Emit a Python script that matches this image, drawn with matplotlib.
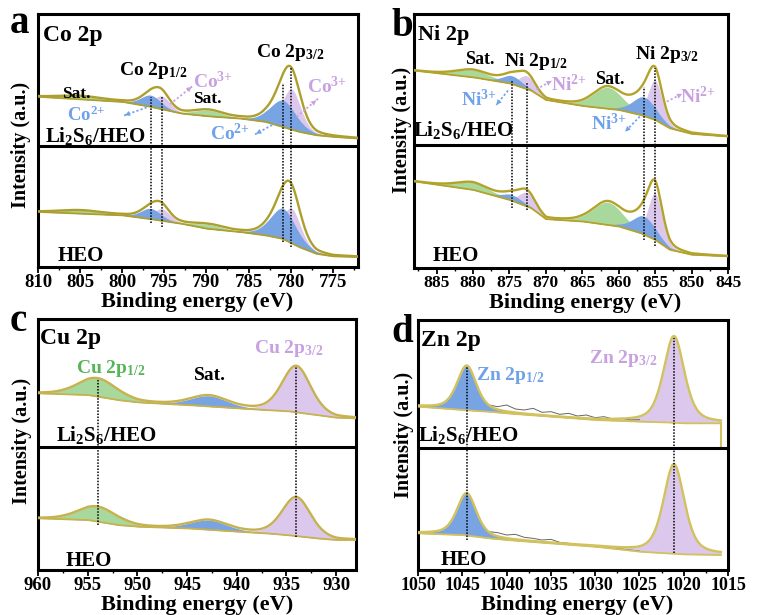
import numpy as np
import matplotlib
matplotlib.use("Agg")
import matplotlib.pyplot as plt
from matplotlib.ticker import MultipleLocator

plt.rcParams['font.family'] = ['Liberation Serif', 'DejaVu Serif']
plt.rcParams['font.weight'] = 'bold'
plt.rcParams['mathtext.fontset'] = 'custom'
plt.rcParams['mathtext.rm'] = 'Liberation Serif:bold'
plt.rcParams['mathtext.it'] = 'Liberation Serif:bold'
plt.rcParams['mathtext.bf'] = 'Liberation Serif:bold'

# ---------------- Co 2p ----------------
co_bg_ev = [810, 800, 797, 793, 790, 786, 783, 781, 779, 777, 775, 772]
co_bg_li2s6 = [5.10, 4.95, 4.82, 4.60, 4.52, 4.45, 4.35, 4.20, 4.05, 3.95, 3.90, 3.85]
co_bg_heo = [1.65, 1.55, 1.45, 1.30, 1.15, 1.05, 0.95, 0.85, 0.60, 0.40, 0.32, 0.30]
co_pk_center = [805.0, 796.6, 795.3, 789.8, 780.9, 779.9]
co_pk_fwhm = [6.0, 2.8, 2.3, 4.0, 3.6, 2.6]
co_pk_li2s6 = [0.10, 0.35, 0.40, 0.18, 0.80, 1.22]
co_pk_heo = [0.10, 0.32, 0.36, 0.13, 0.92, 1.05]
co_pk_kind = ['g', 'b', 'p', 'g', 'b', 'p']
co_guide_ev = [796.6, 795.3, 780.9, 779.9]
co_guide_top = [5.10, 5.12, 5.50, 5.95]
co_guide_bot = [1.32, 1.20, 0.75, 0.60]

# ---------------- Ni 2p ----------------
ni_bg_ev = [888, 880, 875, 872, 870, 865, 860, 857, 855, 853, 850, 845]
ni_bg_li2s6 = [5.93, 5.73, 5.55, 5.33, 5.05, 4.87, 4.75, 4.60, 4.45, 4.20, 4.03, 3.95]
ni_bg_heo = [2.60, 2.35, 2.05, 1.80, 1.47, 1.40, 1.25, 1.05, 0.85, 0.55, 0.40, 0.35]
ni_pk_center = [880.0, 874.6, 872.6, 861.5, 856.5, 855.0]
ni_pk_fwhm = [5.5, 3.2, 2.6, 4.8, 3.8, 2.3]
ni_pk_li2s6 = [0.22, 0.25, 0.40, 0.64, 0.57, 1.20]
ni_pk_heo = [0.22, 0.18, 0.42, 0.68, 0.55, 1.40]
ni_pk_kind = ['g', 'b', 'p', 'g', 'b', 'p']
ni_guide_ev = [874.6, 872.6, 856.5, 855.0]
ni_guide_top = [5.65, 5.60, 5.45, 6.00]
ni_guide_bot = [1.80, 1.75, 0.85, 0.65]

# ---------------- Cu 2p ----------------
cu_bg_ev = [960, 955, 952, 950, 945, 940, 937, 935, 932, 930, 928]
cu_bg_li2s6 = [5.30, 5.25, 5.10, 5.03, 4.95, 4.85, 4.80, 4.77, 4.65, 4.57, 4.55]
cu_bg_heo = [1.55, 1.50, 1.35, 1.30, 1.25, 1.15, 1.10, 1.05, 0.95, 0.90, 0.90]
cu_pk_center = [954.0, 942.8, 934.0]
cu_pk_fwhm = [4.6, 4.4, 3.4]
cu_pk_li2s6 = [0.55, 0.32, 1.39]
cu_pk_heo = [0.45, 0.29, 1.17]
cu_pk_kind = ['g', 'b', 'p']
cu_guide_ev = [954.0, 934.0]
cu_guide_top = [5.70, 6.10]
cu_guide_bot = [1.35, 1.00]

# ---------------- Zn 2p ----------------
zn_bg_ev = [1050, 1045, 1042, 1040, 1035, 1030, 1025, 1022, 1020, 1016]
zn_bg_li2s6 = [4.90, 4.80, 4.75, 4.70, 4.60, 4.50, 4.45, 4.43, 4.40, 4.40]
zn_bg_heo = [1.10, 1.05, 0.95, 0.90, 0.80, 0.70, 0.55, 0.50, 0.47, 0.45]
zn_pk_center = [1044.5, 1021.1]
zn_pk_fwhm = [2.6, 2.8]
zn_pk_li2s6 = [1.34, 2.60]
zn_pk_heo = [1.27, 2.69]
zn_pk_kind = ['b', 'p']
zn_guide_ev = [1044.5, 1021.1]
zn_guide_top = [6.10, 6.95]
zn_guide_bot = [0.90, 0.50]
# measured counts in the Zn 2p1/2 tail region
zn_raw_ev = [1042, 1041, 1040, 1039, 1038, 1037, 1036, 1035, 1034, 1033,
             1032, 1031, 1030, 1029, 1028, 1027, 1026, 1025]
zn_raw_li2s6 = [4.95, 4.90, 4.95, 4.83, 4.80, 4.85, 4.73, 4.75, 4.67, 4.70,
                4.62, 4.65, 4.57, 4.60, 4.53, 4.55, 4.50, 4.51]
zn_raw_heo = [1.15, 1.12, 1.05, 1.07, 0.98, 0.95, 0.90, 0.92, 0.83, 0.80,
              0.77, 0.75, 0.70, 0.70, 0.65, 0.63, 0.60, 0.57]

FILL = {'g': '#a8d89c', 'b': '#78a4e4', 'p': '#dcc8ec'}
TXT_BLUE = '#6fa2ea'
TXT_PURPLE = '#c8a2e0'
TXT_GREEN = '#58b458'

W, H = 761, 615
fig = plt.figure(figsize=(W / 100, H / 100), dpi=100)


def px_axes(left, top, right, bottom):
    return fig.add_axes([left / W, 1 - bottom / H, (right - left) / W, (bottom - top) / H])


def pseudo_voigt(x, c, a, w, eta):
    u = 4.0 * (x - c) ** 2 / w ** 2
    return a * (eta / (1 + u) + (1 - eta) * np.exp(-np.log(2) * u))


def draw_spectrum(ax, x, bg_ev, bg, centers, fwhm, amps, kinds, eta, env_color):
    base = np.interp(x, bg_ev[::-1], bg[::-1])
    total = base.copy()
    comps = []
    for c, w, a, k in zip(centers, fwhm, amps, kinds):
        comp = pseudo_voigt(x, c, a, w, eta)
        total = total + comp
        comps.append((k, comp))
    for order in ['g', 'p', 'b']:
        for k, comp in comps:
            if k == order:
                ax.fill_between(x, base, base + comp, color=FILL[k], lw=0, zorder=2)
    ax.plot(x, base, color=env_color, lw=1.3, zorder=4)
    ax.plot(x, total, color=env_color, lw=1.7, zorder=5)


def setup_axes(ax, xlim, ylim, divider, tick_fs):
    ax.set_xlim(*xlim)
    ax.set_ylim(*ylim)
    ax.axhline(divider, color='k', lw=2.2, zorder=6)
    ax.set_yticks([])
    ax.xaxis.set_major_locator(MultipleLocator(5))
    ax.xaxis.set_minor_locator(MultipleLocator(2.5))
    ax.tick_params(axis='x', which='major', direction='out', length=4, width=1.3,
                   labelsize=tick_fs, pad=1.0)
    ax.tick_params(axis='x', which='minor', direction='out', length=2.5, width=1.0)
    for lab in ax.get_xticklabels():
        lab.set_fontweight('bold')
    for s in ax.spines.values():
        s.set_linewidth(2.2)


def guides(ax, evs, tops, bots):
    for e, t, b in zip(evs, tops, bots):
        ax.plot([e, e], [b, t], color='k', ls=(0, (1, 1)), lw=1.1, zorder=7)


def dotted_arrow(ax, tail, head, color):
    ax.plot([tail[0], head[0]], [tail[1], head[1]], color=color, ls=(0, (1.2, 1.2)),
            lw=1.3, zorder=8)
    dx = head[0] - tail[0]
    dy = head[1] - tail[1]
    ax.annotate('', xy=head, xytext=(head[0] - 0.25 * dx, head[1] - 0.25 * dy),
                arrowprops=dict(arrowstyle='-|>', color=color, lw=0.1,
                                mutation_scale=9), zorder=8)


def txt(ax, x, y, s, fs, color='k', ha='center'):
    ax.text(x, y, s, fontsize=fs, color=color, ha=ha, va='center',
            fontweight='bold', zorder=9)


def fig_text(x, y, s, fs, rot=0, ha='center', va='center'):
    fig.text(x / W, 1 - y / H, s, fontsize=fs, rotation=rot, ha=ha, va=va,
             fontweight='bold')


# ---------------- panel a ----------------
ax = px_axes(38, 14, 358, 267)
x = np.linspace(810, 772, 900)
setup_axes(ax, (810, 772), (0, 7.58), 3.63, 13.5)
draw_spectrum(ax, x, co_bg_ev, co_bg_li2s6, co_pk_center, co_pk_fwhm, co_pk_li2s6,
              co_pk_kind, 0.3, '#ad9f2e')
draw_spectrum(ax, x, co_bg_ev, co_bg_heo, co_pk_center, co_pk_fwhm, co_pk_heo,
              co_pk_kind, 0.3, '#ad9f2e')
guides(ax, co_guide_ev, co_guide_top, co_guide_bot)
dotted_arrow(ax, (794.3, 4.88), (791.5, 5.45), TXT_PURPLE)
dotted_arrow(ax, (797.1, 4.78), (800.0, 4.52), TXT_BLUE)
dotted_arrow(ax, (779.3, 4.50), (776.7, 5.05), TXT_PURPLE)
dotted_arrow(ax, (781.3, 4.38), (784.4, 3.95), TXT_BLUE)
txt(ax, 809.4, 6.95, 'Co 2p', 17, ha='left')
txt(ax, 805.4, 5.17, 'Sat.', 12.5)
txt(ax, 796.3, 5.90, 'Co 2p$_{1/2}$', 14)
txt(ax, 789.2, 5.55, 'Co$^{3{+}}$', 14, TXT_PURPLE)
txt(ax, 789.9, 5.02, 'Sat.', 12.5)
txt(ax, 804.3, 4.55, 'Co$^{2{+}}$', 13.5, TXT_BLUE)
txt(ax, 803.2, 3.93, 'Li$_2$S$_6$/HEO', 15)
txt(ax, 780.1, 6.42, 'Co 2p$_{3/2}$', 14)
txt(ax, 775.7, 5.40, 'Co$^{3{+}}$', 14, TXT_PURPLE)
txt(ax, 787.2, 4.00, 'Co$^{2{+}}$', 14, TXT_BLUE)
txt(ax, 804.9, 0.32, 'HEO', 15)

# ---------------- panel b ----------------
ax = px_axes(414, 14, 728, 268)
x = np.linspace(888.1, 845, 900)
setup_axes(ax, (888.1, 845), (0, 7.63), 3.68, 12.5)
draw_spectrum(ax, x, ni_bg_ev, ni_bg_li2s6, ni_pk_center, ni_pk_fwhm, ni_pk_li2s6,
              ni_pk_kind, 0.3, '#b3a32a')
draw_spectrum(ax, x, ni_bg_ev, ni_bg_heo, ni_pk_center, ni_pk_fwhm, ni_pk_heo,
              ni_pk_kind, 0.3, '#b3a32a')
guides(ax, ni_guide_ev, ni_guide_top, ni_guide_bot)
dotted_arrow(ax, (871.3, 5.37), (869.2, 5.62), TXT_PURPLE)
dotted_arrow(ax, (875.2, 5.33), (876.8, 4.90), TXT_BLUE)
dotted_arrow(ax, (853.4, 5.00), (851.3, 5.23), TXT_PURPLE)
dotted_arrow(ax, (857.1, 4.55), (859.1, 4.10), TXT_BLUE)
txt(ax, 887.5, 7.0, 'Ni 2p', 16, ha='left')
txt(ax, 879.1, 6.27, 'Sat.', 13)
txt(ax, 871.4, 6.20, 'Ni 2p$_{1/2}$', 14)
txt(ax, 866.9, 5.50, 'Ni$^{2{+}}$', 14, TXT_PURPLE)
txt(ax, 879.2, 5.05, 'Ni$^{3{+}}$', 14, TXT_BLUE)
txt(ax, 861.2, 5.65, 'Sat.', 13)
txt(ax, 853.4, 6.40, 'Ni 2p$_{3/2}$', 14)
txt(ax, 849.1, 5.15, 'Ni$^{2{+}}$', 14, TXT_PURPLE)
txt(ax, 861.4, 4.33, 'Ni$^{3{+}}$', 14, TXT_BLUE)
txt(ax, 881.3, 4.15, 'Li$_2$S$_6$/HEO', 15)
txt(ax, 882.3, 0.35, 'HEO', 15)

# ---------------- panel c ----------------
ax = px_axes(38, 319, 356, 570)
x = np.linspace(960, 928, 900)
setup_axes(ax, (960, 928), (0, 7.53), 3.70, 13.5)
draw_spectrum(ax, x, cu_bg_ev, cu_bg_li2s6, cu_pk_center, cu_pk_fwhm, cu_pk_li2s6,
              cu_pk_kind, 0.3, '#c6b24e')
draw_spectrum(ax, x, cu_bg_ev, cu_bg_heo, cu_pk_center, cu_pk_fwhm, cu_pk_heo,
              cu_pk_kind, 0.3, '#c6b24e')
guides(ax, cu_guide_ev, cu_guide_top, cu_guide_bot)
txt(ax, 959.8, 6.95, 'Cu 2p', 17, ha='left')
txt(ax, 952.7, 6.05, 'Cu 2p$_{1/2}$', 14, TXT_GREEN)
txt(ax, 942.7, 5.85, 'Sat.', 14)
txt(ax, 934.8, 6.65, 'Cu 2p$_{3/2}$', 14, TXT_PURPLE)
txt(ax, 953.1, 4.05, 'Li$_2$S$_6$/HEO', 15)
txt(ax, 954.9, 0.27, 'HEO', 15)

# ---------------- panel d ----------------
ax = px_axes(418, 320, 728, 570)
x = np.linspace(1050, 1015.8, 900)
setup_axes(ax, (1050, 1015), (0, 7.50), 3.67, 13)
ax.plot(zn_raw_ev, zn_raw_li2s6, color='#666666', lw=0.7, zorder=3)
ax.plot(zn_raw_ev, zn_raw_heo, color='#666666', lw=0.7, zorder=3)
draw_spectrum(ax, x, zn_bg_ev, zn_bg_li2s6, zn_pk_center, zn_pk_fwhm, zn_pk_li2s6,
              zn_pk_kind, 0.5, '#d2c25e')
draw_spectrum(ax, x, zn_bg_ev, zn_bg_heo, zn_pk_center, zn_pk_fwhm, zn_pk_heo,
              zn_pk_kind, 0.5, '#d2c25e')
ax.plot([1015.8, 1015.8], [zn_bg_li2s6[-1], 3.67], color='#d2c25e', lw=1.5, zorder=5)
guides(ax, zn_guide_ev, zn_guide_top, zn_guide_bot)
txt(ax, 1049.7, 6.90, 'Zn 2p', 17, ha='left')
txt(ax, 1039.6, 5.85, 'Zn 2p$_{1/2}$', 14, TXT_BLUE)
txt(ax, 1026.8, 6.35, 'Zn 2p$_{3/2}$', 14, TXT_PURPLE)
txt(ax, 1044.3, 4.05, 'Li$_2$S$_6$/HEO', 15)
txt(ax, 1044.8, 0.30, 'HEO', 15)

# ---------------- shared labels ----------------
for (xc, yc) in [(197, 302), (585, 303), (197, 605), (577, 605)]:
    fig_text(xc, yc, 'Binding energy (eV)', 16)
for (xc, yc) in [(21, 145), (402, 130), (22, 441), (404, 435)]:
    fig_text(xc, yc, 'Intensity (a.u.)', 14.5, rot=90)
for (xl, yb, s) in [(10, 33, 'a'), (391, 36, 'b'), (10, 331, 'c'), (391, 342, 'd')]:
    fig.text(xl / W, 1 - yb / H, s, fontsize=28, fontweight='bold', ha='left',
             va='baseline')

fig.savefig('out.png', dpi=100)
